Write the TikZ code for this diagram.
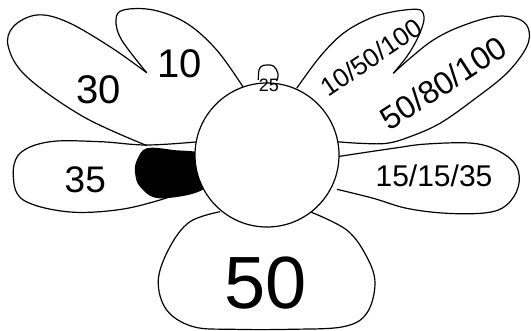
\documentclass[tikz,border=0pt]{standalone}
\usepackage{fontspec}
\setmainfont{Liberation Sans}
\newcommand{\fs}[1]{\fontsize{#1}{#1}\selectfont}
\begin{document}
\begin{tikzpicture}[x=1pt,y=-1pt,line join=round,
  petal/.style={draw=black,line width=1.2pt},
  lbl/.style={inner sep=0pt,text=black}]
\useasboundingbox[fill=white] (0,0) rectangle (531,330);
% upper left: 10 lobe and 30 lobe
\draw[petal] plot[smooth,tension=0.6] coordinates {(243.3,87.3) (216.7,50) (186.7,23.3) (153.3,10) (123.3,10) (116,20) (121.7,40) (146.7,72.7)};
\draw[petal] plot[smooth,tension=0.6] coordinates {(146.7,72.7) (110,46.7) (66.7,21.7) (36.7,15) (13.3,26.7) (8.3,46.7) (26.7,76.7) (83.3,116.7) (146.7,145.5)};
% 35 petal
\draw[petal] plot[smooth,tension=0.6] coordinates {(199,141.7) (146.7,145) (100,141.7) (50,141.7) (20,153.3) (13.3,176.7) (23.3,200) (66.7,211.7) (116.7,210) (160,200) (197,186.7)};
% black blob
\fill[black] plot[smooth cycle,tension=0.6] coordinates {(205,156) (173.3,150) (146.7,148.3) (137,160) (135,172) (140,186.7) (160,198.3) (205,188)};
% upper right
\draw[petal] plot[smooth,tension=0.6] coordinates {(296.7,88.3) (320,56.7) (343.3,33.3) (370,18.3) (393.3,11.7) (416.7,9.3) (423.3,13.3) (423.3,23.3) (416.7,40) (406.7,56.7) (393.3,73.3)};
\draw[petal] plot[smooth,tension=0.6] coordinates {(393.3,73.3) (410,58.3) (433.3,40) (460,26.7) (493.3,16.7) (516.7,18.3) (528.3,28.3) (526.7,46.7) (506.7,73.3) (473.3,100) (440,123.3) (410,136.7) (386.7,143.3) (360,143.3) (337,141.7)};
% 15/15/35 petal
\draw[petal] plot[smooth,tension=0.6] coordinates {(337,156.7) (393.3,148.3) (426.7,144) (473.3,143.3) (500,151.7) (516.7,166.7) (518.3,186.7) (506.7,205) (486.7,212.7) (446.7,213.3) (406.7,208.3) (373.3,198.3) (337,189.3)};
% 50 petal
\draw[petal] plot[smooth,tension=0.6] coordinates {(310,211.7) (346.7,230) (366.7,256.7) (375,283.3) (366.7,313.3) (343.3,326.7) (290,329.3) (233.3,329.3) (193.3,326.7) (166.7,310) (158.3,280) (170,246.7) (190,221.7) (220,211.7)};
% 25 petal
\draw[petal] plot[smooth,tension=0.6] coordinates {(258.3,80) (259,70) (262,66) (267,65) (273.5,66) (277.5,72) (278,77) (276.5,81)};
% center
\draw[petal,fill=white] (267,155) circle (72);
% labels
\node[lbl,font=\fs{40}] (t30) at (98.3,89.5) {30};
\node[lbl,font=\fs{40}] (t10) at (180,63.3) {10};
\node[lbl,font=\fs{37}] (t35) at (85.3,179.7) {35};
\node[lbl,font=\fs{74}] (t50) at (266,283.3) {50};
\node[lbl,font=\fs{30}] (t151535) at (434,176) {15/15/35};
\node[lbl,font=\fs{26},rotate=34] (t1050100) at (371.7,57.3) {10/50/100};
\node[lbl,font=\fs{32},rotate=33] (t5080100) at (443.3,82.7) {50/80/100};
\node[lbl,font=\fs{18}] (t25) at (268.8,85.3) {25};
\end{tikzpicture}
\end{document}
